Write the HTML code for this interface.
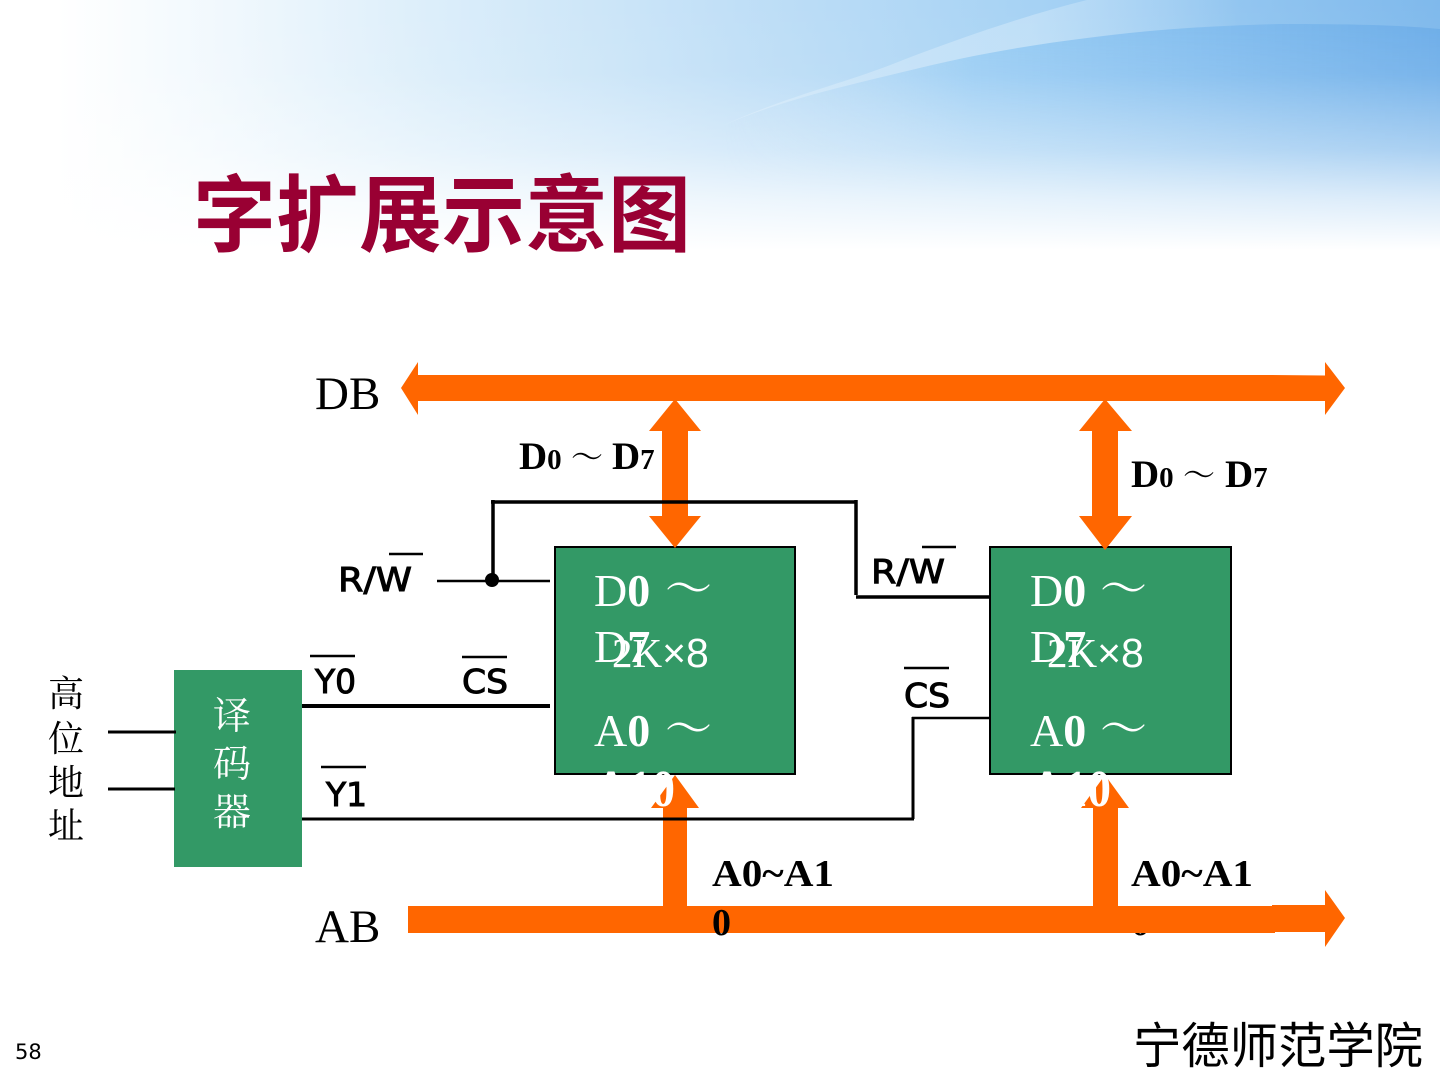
<!DOCTYPE html>
<html lang="zh">
<head>
<meta charset="utf-8">
<title>字扩展示意图</title>
<style>
html,body{margin:0;padding:0;background:#fff;width:1440px;height:1080px;overflow:hidden}
svg{display:block}
.serif{font-family:"Liberation Serif","Noto Serif CJK SC",serif}
.sans{font-family:"Liberation Sans","Noto Sans CJK SC",sans-serif}
.sig{font-family:"DejaVu Sans","Liberation Sans",sans-serif;font-size:33px;fill:#000;stroke:#000;stroke-width:1}
.cjk{font-family:"Liberation Serif","Noto Serif CJK SC",serif}
</style>
</head>
<body>
<svg width="1440" height="1080" viewBox="0 0 1440 1080" xmlns="http://www.w3.org/2000/svg">
<defs>
<linearGradient id="h" x1="0" y1="0" x2="1" y2="0">
<stop offset="0.04" stop-color="#ffffff"/>
<stop offset="0.16" stop-color="#f0f8fd"/>
<stop offset="0.3" stop-color="#dceefa"/>
<stop offset="0.5" stop-color="#c2e0f7"/>
<stop offset="0.72" stop-color="#a6d2f4"/>
<stop offset="1" stop-color="#7fb9ec"/>
</linearGradient>
<linearGradient id="fade" x1="0" y1="0" x2="0" y2="1">
<stop offset="0" stop-color="#fff" stop-opacity="0"/>
<stop offset="0.3" stop-color="#fff" stop-opacity="0.05"/>
<stop offset="0.6" stop-color="#fff" stop-opacity="0.36"/>
<stop offset="0.8" stop-color="#fff" stop-opacity="0.72"/>
<stop offset="1" stop-color="#fff" stop-opacity="1"/>
</linearGradient>
<linearGradient id="under" x1="0" y1="0" x2="1" y2="0">
<stop offset="0" stop-color="#cfe7fa" stop-opacity="0"/>
<stop offset="0.35" stop-color="#93caf4" stop-opacity="0.75"/>
<stop offset="1" stop-color="#6dade8" stop-opacity="1"/>
</linearGradient>
<linearGradient id="underV" gradientUnits="userSpaceOnUse" x1="0" y1="30" x2="0" y2="190">
<stop offset="0" stop-color="#fff"/>
<stop offset="1" stop-color="#000"/>
</linearGradient>
<linearGradient id="streak" x1="0" y1="0" x2="1" y2="0">
<stop offset="0" stop-color="#e6f3fc" stop-opacity="0.35"/>
<stop offset="0.6" stop-color="#dceefb" stop-opacity="0.45"/>
<stop offset="1" stop-color="#dceefb" stop-opacity="0"/>
</linearGradient>
<mask id="m"><rect x="0" y="0" width="1440" height="260" fill="url(#underV)"/></mask>
</defs>

<rect x="0" y="0" width="1440" height="250" fill="url(#h)"/>
<path d="M720,127 C780,100 850,85 903,72 C970,55 1030,45 1087,38 C1150,30 1200,26 1280,24 C1350,24 1400,25 1440,29 L1440,250 L720,250 Z" fill="url(#under)" mask="url(#m)"/>
<path d="M720,127 C780,98 850,82 903,60 C960,38 1030,14 1087,0 L1240,0 L1240,26 C1190,27 1140,31 1087,38 C1030,45 970,55 903,72 C850,85 780,100 720,127 Z" fill="url(#streak)"/>
<rect x="0" y="0" width="1440" height="250" fill="url(#fade)"/>

<text x="193" y="245" class="sans" font-size="84" font-weight="700" fill="#990033" textLength="498" lengthAdjust="spacingAndGlyphs">字扩展示意图</text>

<text x="315" y="409" class="serif" font-size="47" fill="#000">DB</text>
<text x="315" y="942" class="serif" font-size="47" fill="#000">AB</text>

<text x="1131" y="886" class="serif" font-size="38" font-weight="700" fill="#000" textLength="122" lengthAdjust="spacingAndGlyphs">A0~A1</text>
<text x="1131" y="935" class="serif" font-size="38" font-weight="700" fill="#000">0</text>

<rect x="555" y="547" width="240" height="227" fill="#339966" stroke="#000" stroke-width="2"/>
<rect x="990" y="547" width="241" height="227" fill="#339966" stroke="#000" stroke-width="2"/>
<rect x="174" y="670" width="128" height="197" fill="#339966"/>

<!-- DB bus -->
<polygon points="401,388 418,362 418,375 1272,375 1325,375.500 1325,362 1345,388 1325,415 1325,401 418,401 418,415" fill="#ff6600"/>
<!-- AB bus -->
<polygon points="408,906 1272,906 1272,905 1325,905 1325,890 1345,918 1325,947 1325,932 1275,932 1275,933 408,933" fill="#ff6600"/>

<!-- Data arrows -->
<polygon points="675,399 701,431 688,431 688,516 701,516 675,548 649,516 662,516 662,431 649,431" fill="#ff6600"/>
<polygon points="1105,399 1132,431 1118,431 1118,516 1132,516 1105,550 1079,516 1092,516 1092,431 1079,431" fill="#ff6600"/>
<!-- Address arrows -->
<polygon points="675,775 699,808 687,808 687,906 663,906 663,808 651,808" fill="#ff6600"/>
<polygon points="1105,775 1129,808 1118,808 1118,906 1093,906 1093,808 1081,808" fill="#ff6600"/>

<!-- Wires -->
<g stroke="#000" fill="none" stroke-linecap="butt">
<path d="M491,502H857" stroke-width="3.500"/>
<path d="M493,500V580" stroke-width="3.500"/>
<path d="M856,500V595" stroke-width="3.500"/>
<path d="M856,597H991" stroke-width="3.500"/>
<path d="M437,581H550" stroke-width="2.500"/>
<path d="M108,732H176" stroke-width="3"/>
<path d="M108,789H175" stroke-width="3"/>
<path d="M302,706H550" stroke-width="4"/>
<path d="M302,819H914" stroke-width="3"/>
<path d="M913,819V717" stroke-width="3"/>
<path d="M912,718H990" stroke-width="2.500"/>
<path d="M389,554H423" stroke-width="2.500"/>
<path d="M922,547H956" stroke-width="2.500"/>
<path d="M310,656H355" stroke-width="2.500"/>
<path d="M462,657H507" stroke-width="2.500"/>
<path d="M321,767H366" stroke-width="2.500"/>
<path d="M904,668H949" stroke-width="2.500"/>
</g>
<circle cx="492" cy="580" r="7" fill="#000"/>

<!-- Signal labels -->
<text x="338" y="591" class="sig" textLength="74" lengthAdjust="spacingAndGlyphs">R/W</text>
<text x="871" y="583" class="sig" textLength="74" lengthAdjust="spacingAndGlyphs">R/W</text>
<text x="315" y="693" class="sig" textLength="41" lengthAdjust="spacingAndGlyphs">Y0</text>
<text x="462" y="693" class="sig" textLength="46" lengthAdjust="spacingAndGlyphs">CS</text>
<text x="326" y="806" class="sig" textLength="41" lengthAdjust="spacingAndGlyphs">Y1</text>
<text x="904" y="707" class="sig" textLength="46" lengthAdjust="spacingAndGlyphs">CS</text>

<!-- Data labels -->
<text x="519" y="469" class="serif" font-weight="700" font-size="39" fill="#000">D<tspan font-size="29">0</tspan></text>
<text x="571" y="468" class="cjk" font-size="32" fill="#000">～</text>
<text x="612" y="469" class="serif" font-weight="700" font-size="39" fill="#000">D<tspan font-size="29">7</tspan></text>
<text x="1131" y="487" class="serif" font-weight="700" font-size="39" fill="#000">D<tspan font-size="29">0</tspan></text>
<text x="1183" y="486" class="cjk" font-size="32" fill="#000">～</text>
<text x="1225" y="487" class="serif" font-weight="700" font-size="39" fill="#000">D<tspan font-size="29">7</tspan></text>

<text x="712" y="886" class="serif" font-size="38" font-weight="700" fill="#000" textLength="122" lengthAdjust="spacingAndGlyphs">A0~A1</text>
<text x="712" y="935" class="serif" font-size="38" font-weight="700" fill="#000">0</text>

<!-- Chip labels -->
<g class="serif" font-size="46" fill="#fff">
<text x="594" y="606">D<tspan font-weight="700">0</tspan></text>
<text x="665" y="605" class="cjk" font-size="47">～</text>
<text x="594" y="662">D<tspan font-weight="700">7</tspan></text>
<text x="594" y="746">A<tspan font-weight="700">0</tspan></text>
<text x="665" y="745" class="cjk" font-size="47">～</text>
<text x="594" y="806" font-weight="700" font-size="52" textLength="81" lengthAdjust="spacingAndGlyphs">A10</text>
<text x="1030" y="606">D<tspan font-weight="700">0</tspan></text>
<text x="1100" y="605" class="cjk" font-size="47">～</text>
<text x="1030" y="662">D<tspan font-weight="700">7</tspan></text>
<text x="1030" y="746">A<tspan font-weight="700">0</tspan></text>
<text x="1100" y="745" class="cjk" font-size="47">～</text>
<text x="1030" y="806" font-weight="700" font-size="52" textLength="81" lengthAdjust="spacingAndGlyphs">A10</text>
</g>
<text x="612" y="667" class="serif" font-size="41" fill="#fff">2K<tspan class="sans">×8</tspan></text>
<text x="1047" y="667" class="serif" font-size="41" fill="#fff">2K<tspan class="sans">×8</tspan></text>

<!-- Vertical CJK labels -->
<g class="cjk" font-size="36" fill="#000" text-anchor="middle">
<text x="66" y="706">高</text>
<text x="66" y="751">位</text>
<text x="66" y="795">地</text>
<text x="66" y="838">址</text>
</g>
<g class="cjk" font-size="38" fill="#fff" text-anchor="middle">
<text x="232" y="729">译</text>
<text x="232" y="777">码</text>
<text x="232" y="825">器</text>
</g>

<text x="1133" y="1063" class="sans" font-size="49" font-weight="400" fill="#000" textLength="290" lengthAdjust="spacingAndGlyphs">宁德师范学院</text>
<text x="15" y="1059" font-family="'DejaVu Sans',sans-serif" font-size="21" fill="#000">58</text>
</svg>
</body>
</html>
